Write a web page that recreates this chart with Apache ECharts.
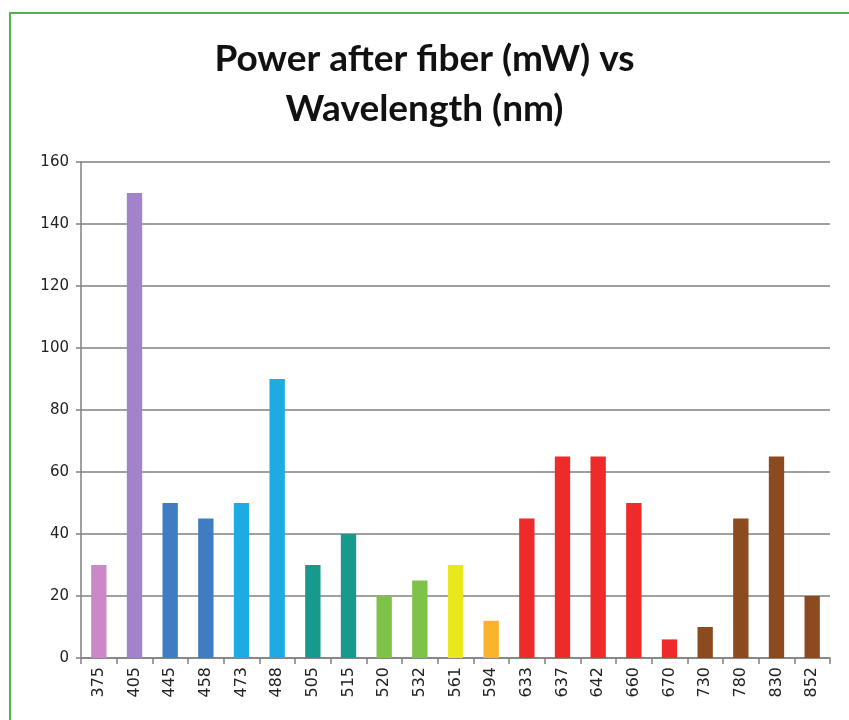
<!DOCTYPE html>
<html><head><meta charset="utf-8">
<script src="https://cdn.jsdelivr.net/npm/echarts@6/dist/echarts.min.js"></script>
<style>
html,body{margin:0;padding:0;background:#fff;width:849px;height:720px;overflow:hidden;}
#frame{position:absolute;left:9px;top:12px;width:900px;height:800px;border:2px solid #4cb848;box-sizing:border-box;}
#c{position:absolute;left:0;top:0;width:849px;height:720px;}
</style></head>
<body>
<div id="frame"></div>
<div id="c"></div>
<script>
const categories = ['375','405','445','458','473','488','505','515','520','532','561','594','633','637','642','660','670','730','780','830','852'];
const powerValues = [30,150,50,45,50,90,30,40,20,25,30,12,45,65,65,50,6,10,45,65,20];
const barColors = ['#cc88c6','#a283c9','#3f7cc2','#3f7cc2','#1eaae2','#1eaae2','#17998c','#17998c','#7ec24a','#7ec24a','#e8e81c','#fbb22c','#ee2a2a','#ee2a2a','#ee2a2a','#ee2a2a','#ee2a2a','#8c4b1f','#8c4b1f','#8c4b1f','#8c4b1f'];
const yTicks = [0,20,40,60,80,100,120,140,160];

const chart = echarts.init(document.getElementById('c'), null, {renderer:'canvas'});
chart.setOption({
  backgroundColor:'transparent',
  animation:false,
  title:{
    text:'Power after fiber (mW) vs\nWavelength (nm)',
    left:'center', top:29,
    textStyle:{fontFamily:'Lato', fontWeight:'bold', fontSize:37, lineHeight:50, color:'#111'}
  },
  grid:{left:81, right:19, top:162, bottom:62},
  xAxis:{
    type:'category', data:categories, boundaryGap:true,
    axisLine:{lineStyle:{color:'#808080', width:1.5}},
    axisTick:{show:true, length:6, alignWithLabel:false, lineStyle:{color:'#808080', width:1.5}},
    axisLabel:{rotate:90, fontSize:16, color:'#222', fontFamily:'DejaVu Sans', margin:9, interval:0}
  },
  yAxis:{
    type:'value', min:yTicks[0], max:yTicks[yTicks.length-1], interval:20,
    axisLine:{show:true, lineStyle:{color:'#808080', width:1.5}},
    axisTick:{show:true, length:5, lineStyle:{color:'#808080', width:1.5}},
    splitLine:{lineStyle:{color:'#808080', width:1.5}},
    axisLabel:{fontSize:15, color:'#222', fontFamily:'DejaVu Sans', margin:12}
  },
  series:[{
    type:'bar', barWidth:'43%',
    data: powerValues.map((v,i)=>({value:v, itemStyle:{color:barColors[i]}}))
  }]
});
</script>
</body></html>
